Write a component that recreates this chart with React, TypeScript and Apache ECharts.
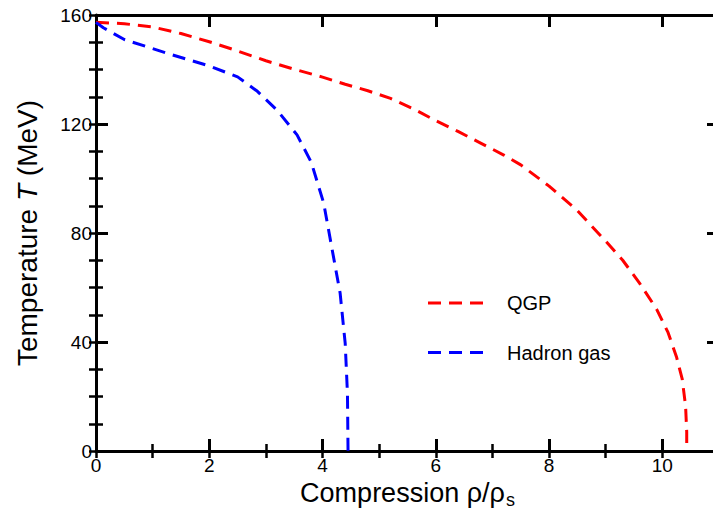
import React, { useEffect, useRef } from "react";
import * as echarts from "echarts";

const qgpX = [0, 0.5, 1, 1.5, 2, 2.5, 3, 3.5, 4, 4.4, 4.8, 5.2, 5.6, 6, 6.4, 6.8, 7.2, 7.5, 8, 8.5, 9, 9.3, 9.6, 9.9, 10.1, 10.25, 10.35, 10.41, 10.43, 10.43];
const qgpT = [157.3, 156.8, 155.6, 153.2, 150.2, 146.8, 143.2, 140.1, 137.2, 134.6, 132.2, 129.4, 125.6, 121.2, 117.2, 112.9, 108.6, 105, 97.2, 88.2, 77, 70, 61.5, 52, 43.5, 34.5, 26.5, 16.5, 7, 0];

const hadronX = [0, 0.13, 0.5, 1.25, 2, 2.5, 2.85, 3.2, 3.55, 3.8, 4.02, 4.16, 4.31, 4.4, 4.44, 4.45];
const hadronT = [157.3, 155.3, 151, 146, 141.3, 137.3, 132, 125, 116, 106, 91, 75, 58, 39.5, 21, 0];

const xTicks = [0, 2, 4, 6, 8, 10];
const yTicks = [0, 40, 80, 120, 160];

const legendNames = ["QGP", "Hadron gas"];
const colors = ["#ff0000", "#0000ff"];

const FONT = '"Liberation Sans", Arial, Helvetica, sans-serif';

export default function App() {
  const ref = useRef<HTMLDivElement>(null);
  useEffect(() => {
    if (!ref.current) return;
    const chart = echarts.init(ref.current, null, { renderer: "svg" });
    const dash = [13, 8];
    const majorX = {
      type: "value" as const,
      min: 0,
      max: 11,
      interval: 2,
      axisLine: { show: true, onZero: false, lineStyle: { color: "#000", width: 3 } },
      axisTick: { show: true, inside: true, length: 12, lineStyle: { color: "#000", width: 3 } },
      splitLine: { show: false },
    };
    const minorX = {
      type: "value" as const,
      min: 0,
      max: 11,
      interval: 1,
      axisLine: { show: false },
      axisTick: { show: true, inside: true, length: 7, lineStyle: { color: "#000", width: 2.5 } },
      axisLabel: { show: false },
      splitLine: { show: false },
    };
    const majorY = {
      type: "value" as const,
      min: 0,
      max: 160,
      interval: 40,
      axisLine: { show: true, onZero: false, lineStyle: { color: "#000", width: 3 } },
      axisTick: { show: true, inside: true, length: 12, lineStyle: { color: "#000", width: 3 } },
      splitLine: { show: false },
    };
    const minorY = {
      type: "value" as const,
      min: 0,
      max: 160,
      interval: 10,
      axisLine: { show: false },
      axisTick: { show: true, inside: true, length: 7, lineStyle: { color: "#000", width: 2.5 } },
      axisLabel: { show: false },
      splitLine: { show: false },
    };
    chart.setOption({
      animation: false,
      backgroundColor: "#fff",
      grid: { left: 96, top: 15, right: 6, bottom: 65, containLabel: false },
      xAxis: [
        {
          ...majorX,
          position: "bottom",
          axisLabel: {
            show: true,
            color: "#000",
            fontSize: 19,
            fontFamily: FONT,
            margin: 5,
            formatter: (v: number) => (xTicks.includes(v) ? String(v) : ""),
          },
          name: "{a|Compression ρ/ρ}{s|s}",
          nameLocation: "middle",
          nameGap: 22,
          nameTextStyle: {
            color: "#000",
            fontFamily: FONT,
            rich: {
              a: { fontSize: 27, fontFamily: FONT, color: "#000" },
              s: { fontSize: 18, fontFamily: FONT, color: "#000", padding: [14, 0, 0, 1] },
            },
          },
        },
        { ...minorX, position: "bottom" },
        { ...majorX, position: "top", axisLabel: { show: false } },
        { ...minorX, position: "top" },
      ],
      yAxis: [
        {
          ...majorY,
          position: "left",
          axisLabel: {
            show: true,
            color: "#000",
            fontSize: 19,
            fontFamily: FONT,
            margin: 4,
            formatter: (v: number) => (yTicks.includes(v) ? String(v) : ""),
          },
          name: "{a|Temperature }{i|T}{a| (MeV)}",
          nameLocation: "middle",
          nameGap: 55,
          nameTextStyle: {
            color: "#000",
            fontFamily: FONT,
            rich: {
              a: { fontSize: 28, fontFamily: FONT, color: "#000" },
              i: { fontSize: 28, fontFamily: FONT, color: "#000", fontStyle: "italic" },
            },
          },
        },
        { ...minorY, position: "left" },
        { ...majorY, position: "right", axisLabel: { show: false } },
        { ...minorY, position: "right" },
      ],
      series: [
        {
          name: legendNames[0],
          type: "line",
          xAxisIndex: 0,
          yAxisIndex: 0,
          data: qgpX.map((x, i) => [x, qgpT[i]]),
          showSymbol: false,
          symbol: "none",
          lineStyle: { color: colors[0], width: 3, type: dash },
        },
        {
          name: legendNames[1],
          type: "line",
          xAxisIndex: 0,
          yAxisIndex: 0,
          data: hadronX.map((x, i) => [x, hadronT[i]]),
          showSymbol: false,
          symbol: "none",
          lineStyle: { color: colors[1], width: 3, type: dash },
        },
      ],
      graphic: legendNames.flatMap((n, i) => [
        {
          type: "line",
          shape: { x1: 428, y1: 303 + i * 49.5, x2: 484, y2: 303 + i * 49.5 },
          style: { stroke: colors[i], lineWidth: 3, lineDash: dash },
        },
        {
          type: "text",
          x: 507,
          y: 303 + i * 49.5,
          style: {
            text: n,
            fontSize: 20,
            fontFamily: FONT,
            fill: "#000",
            verticalAlign: "middle",
            align: "left",
          },
        },
      ]),
    });
    return () => chart.dispose();
  }, []);
  return (
    <div style={{ position: "fixed", left: 0, top: 0, width: 713, height: 516, overflow: "hidden" }}>
      <div ref={ref} style={{ width: 725, height: 516 }} />
    </div>
  );
}
